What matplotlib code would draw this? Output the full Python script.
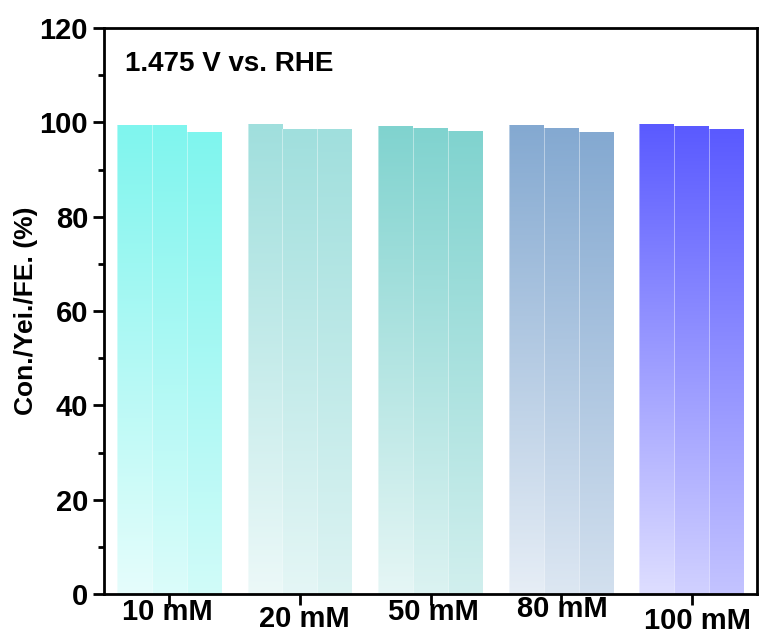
import matplotlib.pyplot as plt
import numpy as np
from matplotlib.colors import LinearSegmentedColormap, to_rgb

plt.rcParams['font.family'] = ['Liberation Sans', 'DejaVu Sans']
plt.rcParams['font.weight'] = 'bold'

# данные: концентрация, конверсия / выход / FE
groups = ['10 mM', '20 mM', '50 mM', '80 mM', '100 mM']
conversion = [99.4, 99.6, 99.3, 99.4, 99.7]
yield_ = [99.4, 98.6, 98.9, 98.7, 99.3]
fe = [98.0, 98.6, 98.2, 97.9, 98.5]
top_colors = ['#7ff5ee', '#a0dfdd', '#80d3cf', '#84a9d1', '#5a5aff']

# смещения подписей по оси x (px): dx, dy
label_off = [(-2, 18), (4, 25), (3, 18), (1, 15), (6, 27)]

fig = plt.figure(figsize=(7.63, 6.37), dpi=100)
ax = fig.add_axes([104 / 763, 1 - 594 / 637, (757 - 104) / 763, (594 - 28) / 637])

width = 0.8 / 3
bottom_alpha = [0.2, 0.28, 0.36]
series = [conversion, yield_, fe]

for gi, c in enumerate(top_colors):
    rgb = np.array(to_rgb(c))
    for si, vals in enumerate(series):
        x0 = gi - 0.4 + si * width
        h = vals[gi]
        a0 = bottom_alpha[si]
        low = rgb * a0 + (1 - a0)
        cmap = LinearSegmentedColormap.from_list('g', [low, rgb])
        bar = ax.bar(x0, h, width=width, align='edge', color='none', linewidth=0)[0]
        grad = np.linspace(0, 1, 256).reshape(-1, 1)
        im = ax.imshow(grad, cmap=cmap, origin='lower', aspect='auto',
                       extent=[x0, x0 + width, 0, h], zorder=1)
        im.set_clip_path(bar)
        # тонкая светлая граница между столбцами
        ax.plot([x0, x0], [0, h], color='white', lw=0.6, alpha=0.5, zorder=2)

ax.set_xlim(-0.5, 4.5)
ax.set_ylim(0, 120)
ax.set_yticks(np.arange(0, 121, 20))
ax.set_yticks(np.arange(10, 120, 20), minor=True)
ax.set_xticks(range(len(groups)))
ax.set_xticklabels([])
for sp in ax.spines.values():
    sp.set_linewidth(2)
ax.tick_params(axis='both', which='major', direction='out', length=8, width=2,
               labelsize=21)
ax.tick_params(axis='y', which='minor', direction='out', length=4, width=2)
for lab in ax.get_yticklabels():
    lab.set_fontweight('bold')

for i, g in enumerate(groups):
    dx, dy = label_off[i]
    ax.annotate(g, xy=(i, 0), xycoords=('data', 'axes fraction'),
                xytext=(dx * 0.72, -dy * 0.72), textcoords='offset points',
                ha='center', va='center', fontsize=21, fontweight='bold')

ax.set_ylabel('Con./Yei./FE. (%)', fontsize=19, fontweight='bold')
ax.yaxis.set_label_coords(-66 / 653, 0.5)
ax.text(0.032, 0.96, '1.475 V vs. RHE', transform=ax.transAxes,
        fontsize=20, fontweight='bold', va='top')

fig.savefig('out.png', dpi=100)
